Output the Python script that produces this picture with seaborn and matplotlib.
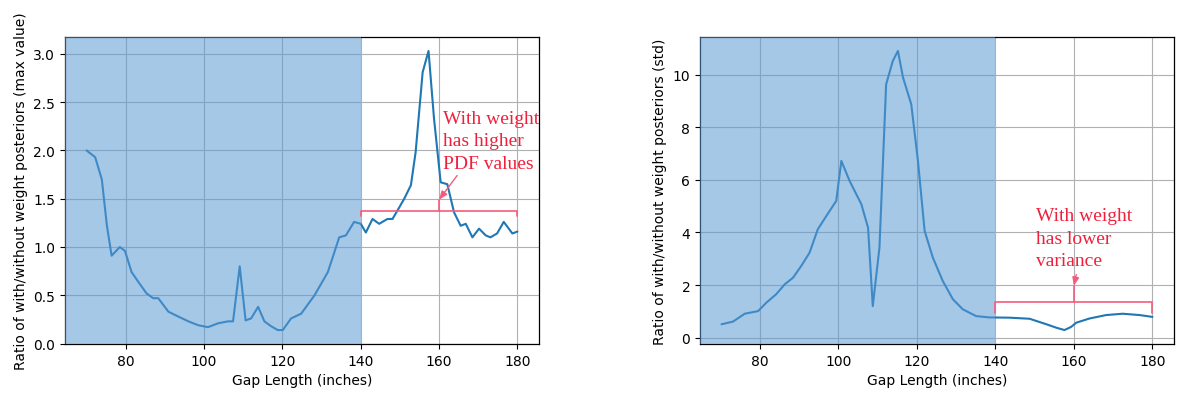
import matplotlib
matplotlib.use("Agg")
import matplotlib.pyplot as plt
import seaborn as sns
import pandas as pd

# ---------------- data ----------------
gap_max = [70, 72.2, 73.9, 75.2, 76.4, 78.5, 79.8, 81.5, 83.2, 85.3, 87, 88.3, 90.9, 93.4,
           96, 98.5, 101, 103.6, 106.1, 107.4, 109.1, 110.6, 112, 113.8, 115.4, 117.1,
           118.8, 120.1, 122.2, 124.8, 128.2, 131.6, 134.5, 136.2, 138.3, 140, 141.3, 143,
           144.7, 146.8, 148.1, 149.4, 151.1, 152.8, 154, 155.8, 157.3, 158.7, 160.4, 162.1,
           163.8, 165.5, 166.8, 168.5, 170.2, 171.9, 173.1, 174.8, 176.5, 178.7, 180]
ratio_max = [2.0, 1.93, 1.70, 1.22, 0.91, 1.00, 0.96, 0.74, 0.64, 0.52, 0.47, 0.47, 0.33, 0.28,
             0.23, 0.19, 0.17, 0.21, 0.23, 0.23, 0.80, 0.24, 0.26, 0.38, 0.23, 0.18,
             0.14, 0.14, 0.26, 0.31, 0.50, 0.74, 1.10, 1.12, 1.26, 1.24, 1.15, 1.29,
             1.24, 1.29, 1.29, 1.38, 1.50, 1.64, 1.98, 2.81, 3.03, 2.33, 1.67, 1.65,
             1.36, 1.22, 1.24, 1.10, 1.19, 1.12, 1.10, 1.14, 1.26, 1.14, 1.16]

gap_std = [70.3, 73.2, 76.2, 79.6, 81.7, 84.2, 86.4, 88.5, 90.6, 92.7, 94.8, 97, 99.5, 100.8,
           102.9, 105.9, 107.6, 108.8, 110.5, 112.2, 113.9, 115.2, 116.5, 118.6, 120.3, 122,
           124.1, 126.6, 129.2, 131.7, 135.1, 138.5, 143.6, 148.7, 153, 155.5, 157.6, 159.3,
           160.6, 164, 168.2, 172.4, 176.7, 180]
ratio_std = [0.51, 0.61, 0.91, 1.01, 1.33, 1.65, 2.03, 2.28, 2.73, 3.23, 4.12, 4.63, 5.20, 6.72,
             5.96, 5.07, 4.18, 1.20, 3.42, 9.63, 10.52, 10.90, 9.89, 8.87, 6.72, 4.06,
             3.04, 2.16, 1.46, 1.08, 0.82, 0.77, 0.76, 0.72, 0.51, 0.38, 0.29, 0.41,
             0.57, 0.73, 0.86, 0.91, 0.86, 0.79]

x_label = "Gap Length (inches)"
y_label_max = "Ratio of with/without weight posteriors (max value)"
y_label_std = "Ratio of with/without weight posteriors (std)"
note_max = "With weight\nhas higher\nPDF values"
note_std = "With weight\nhas lower\nvariance"

shade_end = 140
bracket_x = (140, 180)
bracket_mid = 160

# ---------------- style ----------------
sns.set_style("ticks", {"axes.grid": True, "grid.color": "#b0b0b0",
                        "axes.edgecolor": "black", "xtick.color": "black",
                        "ytick.color": "black", "axes.labelcolor": "black",
                        "text.color": "black"})
plt.rcParams["font.family"] = ["DejaVu Sans"]
plt.rcParams["font.size"] = 10
plt.rcParams["axes.linewidth"] = 0.9

fig = plt.figure(figsize=(11.83, 4.02), dpi=100)
ax1 = fig.add_axes([65 / 1183, 57 / 402, 474 / 1183, 307 / 402])
ax2 = fig.add_axes([700 / 1183, 57 / 402, 474 / 1183, 307 / 402])

line_color = "#1f77b4"
shade_color = "#5B9BD5"
red = "#f0203c"
pink = "#f45c7c"

df1 = pd.DataFrame({"gap": gap_max, "ratio": ratio_max})
df2 = pd.DataFrame({"gap": gap_std, "ratio": ratio_std})


def draw(ax, df, ylab, note, note_xy, br_y, br_leg, stem_top, arrow_from):
    sns.lineplot(data=df, x="gap", y="ratio", ax=ax, color=line_color, lw=1.5, zorder=2)
    ax.set_xlabel(x_label, fontsize=10)
    ax.set_ylabel(ylab, fontsize=10)
    ax.grid(True, color="#b0b0b0", lw=0.8)
    ax.tick_params(direction="out", length=3.5, width=0.8, labelsize=10)
    xlim = ax.get_xlim()
    ax.axvspan(xlim[0], shade_end, color=shade_color, alpha=0.55, lw=0, zorder=3)
    ax.set_xlim(xlim)
    # bracket
    x0, x1 = bracket_x
    ax.plot([x0, x0, x1, x1], [br_y - br_leg, br_y, br_y, br_y - br_leg],
            color=pink, lw=1.2, zorder=4)
    ax.plot([bracket_mid, bracket_mid], [br_y, stem_top], color=pink, lw=1.2, zorder=4)
    ax.annotate("", xy=(bracket_mid, stem_top), xytext=arrow_from,
                arrowprops=dict(arrowstyle="-|>,head_length=0.5,head_width=0.2",
                                color=pink, lw=1.0, shrinkA=0, shrinkB=0), zorder=4)
    ax.text(note_xy[0], note_xy[1], note, color=red, fontsize=14,
            family=["Liberation Serif", "DejaVu Serif"], va="top", ha="left",
            linespacing=1.42, zorder=5)


draw(ax1, df1, y_label_max, note_max, (161.0, 2.42), 1.375, 0.05, 1.49, (164.6, 1.74))
draw(ax2, df2, y_label_std, note_std, (150.3, 4.95), 1.37, 0.42, 1.97, (160.6, 2.40))

fig.savefig("out.png", dpi=100)
